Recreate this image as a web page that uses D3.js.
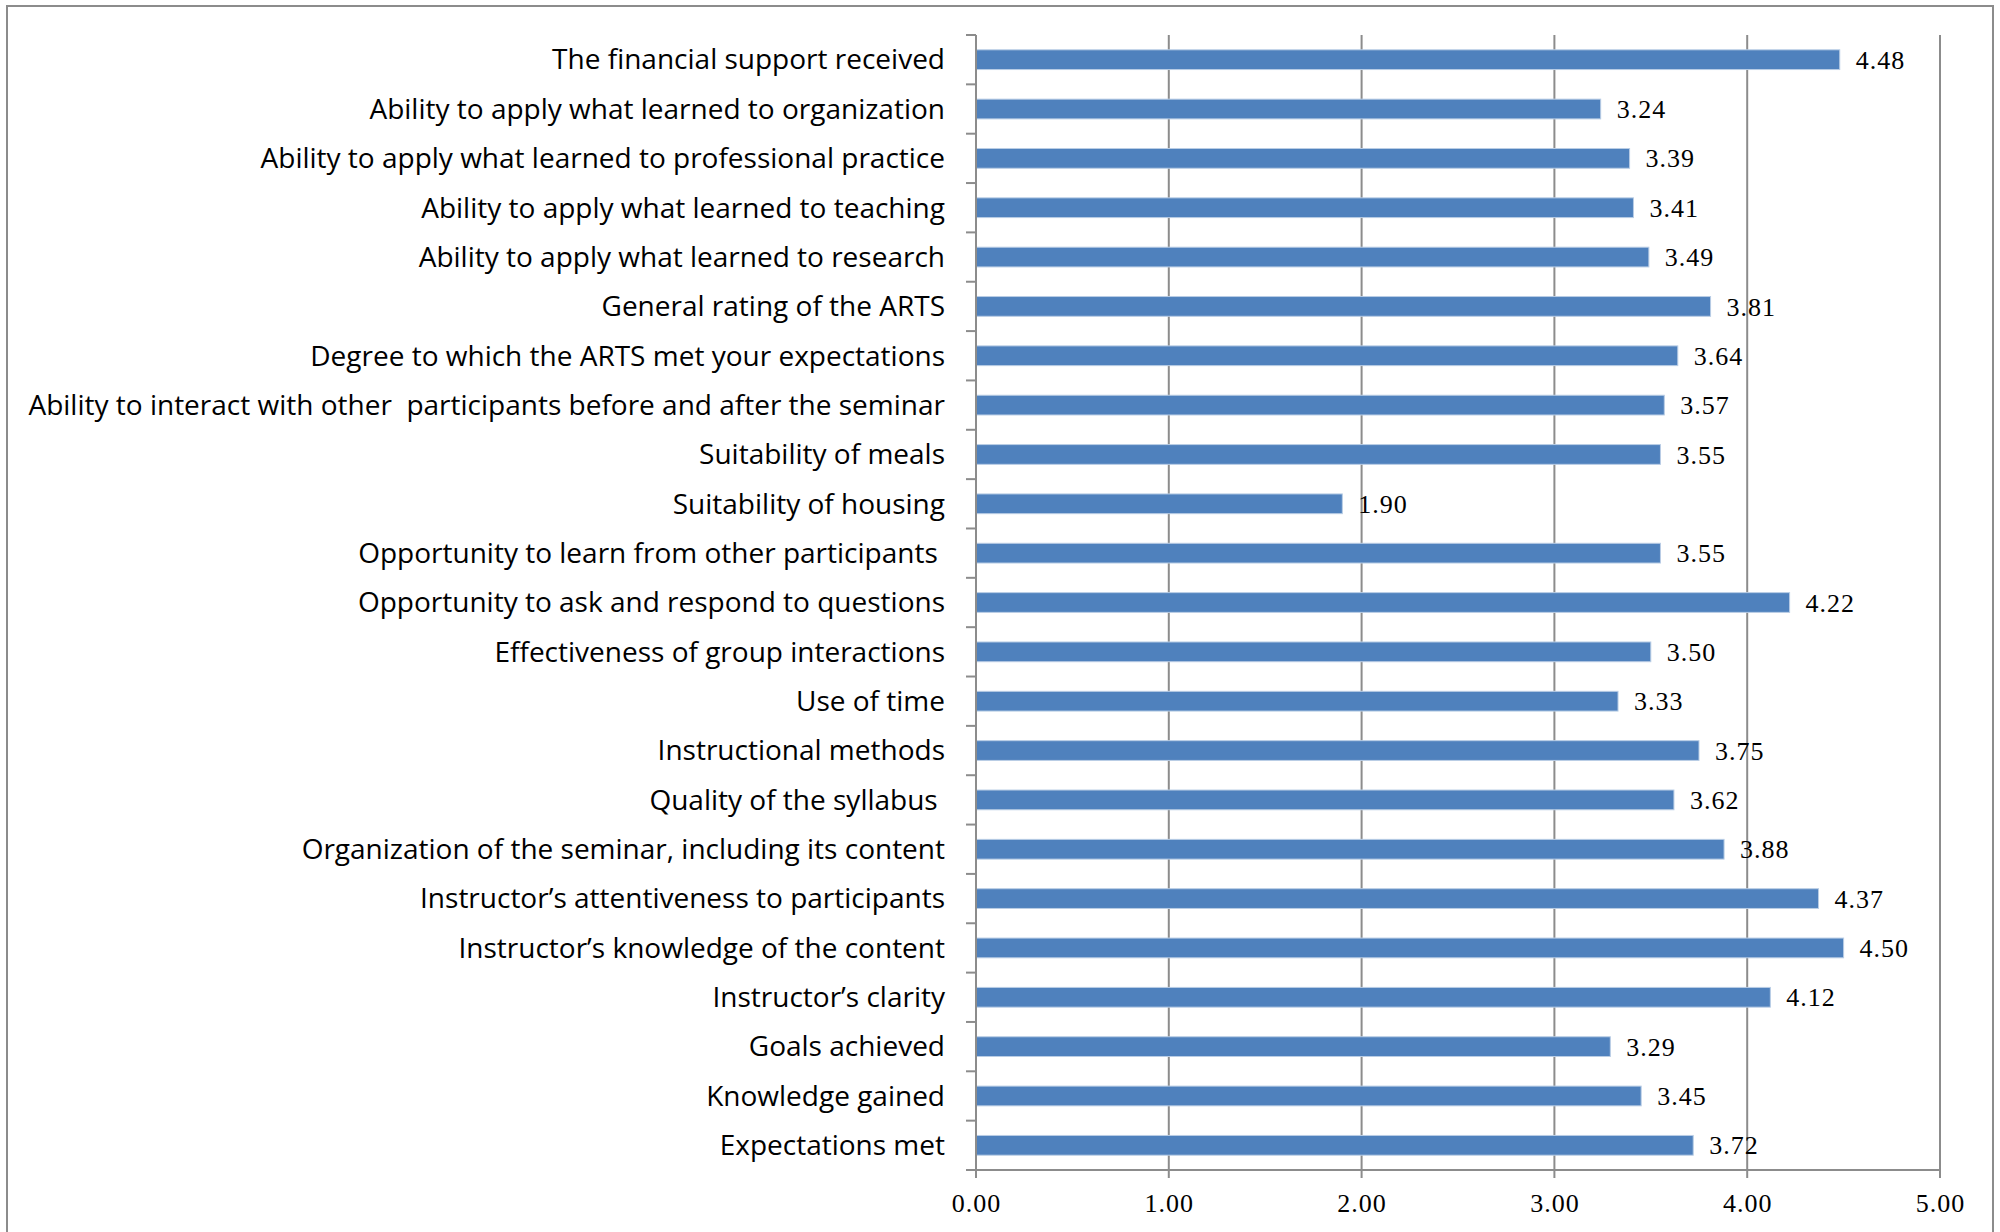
<!DOCTYPE html>
<html>
<head>
  <title>Seminar evaluation ratings</title>
  <style>
    body { margin: 0; background: #fff; }
    .cat text { font-family: "Open Sans", sans-serif; font-size: 28px; fill: #000; white-space: pre; }
    .xax text { font-family: "Liberation Serif", serif; font-size: 26px; letter-spacing: 1px; fill: #000; }
    .val { font-family: "Liberation Serif", serif; font-size: 26px; letter-spacing: 1px; fill: #000; }
    .grid line, .axisline { stroke: #8c8c8c; stroke-width: 2px; }
  </style>
</head>
<body>
  <svg id="chart"></svg>

  <script src="https://d3js.org/d3.v7.min.js"></script>
  <script>
    // categories, top to bottom as in the chart
    var categories = [
      "The financial support received",
      "Ability to apply what learned to organization",
      "Ability to apply what learned to professional practice",
      "Ability to apply what learned to teaching",
      "Ability to apply what learned to research",
      "General rating of the ARTS",
      "Degree to which the ARTS met your expectations",
      "Ability to interact with other  participants before and after the seminar",
      "Suitability of meals",
      "Suitability of housing",
      "Opportunity to learn from other participants ",
      "Opportunity to ask and respond to questions",
      "Effectiveness of group interactions",
      "Use of time",
      "Instructional methods",
      "Quality of the syllabus ",
      "Organization of the seminar, including its content",
      "Instructor\u2019s attentiveness to participants",
      "Instructor\u2019s knowledge of the content",
      "Instructor\u2019s clarity",
      "Goals achieved",
      "Knowledge gained",
      "Expectations met"
    ];
    var values = [4.48, 3.24, 3.39, 3.41, 3.49, 3.81, 3.64, 3.57, 3.55, 1.90, 3.55, 4.22,
                  3.50, 3.33, 3.75, 3.62, 3.88, 4.37, 4.50, 4.12, 3.29, 3.45, 3.72];
    var xTicks = [0, 1, 2, 3, 4, 5];

    var width = 2000, height = 1232;
    var plotLeft = 976, plotRight = 1940, plotTop = 35, plotBottom = 1170;

    var svg = d3.select("#chart").attr("width", width).attr("height", height);

    // outer chart border
    svg.append("rect")
      .attr("x", 7).attr("y", 6)
      .attr("width", 1986).attr("height", 1240)
      .attr("fill", "none").attr("stroke", "#8c8c8c").attr("stroke-width", 2);

    var x = d3.scaleLinear().domain([0, 5]).range([plotLeft, plotRight]);
    var y = d3.scaleBand().domain(categories).range([plotTop, plotBottom])
      .paddingInner(0.6).paddingOuter(0.3);

    // vertical gridlines (run a bit below the axis as tick marks)
    svg.append("g").attr("class", "grid")
      .selectAll("line").data(xTicks).enter().append("line")
      .attr("x1", d => x(d)).attr("x2", d => x(d))
      .attr("y1", plotTop).attr("y2", plotBottom + 8);

    // bars
    svg.append("g").selectAll("rect")
      .data(values).enter().append("rect")
      .attr("x", x(0))
      .attr("y", (d, i) => y(categories[i]))
      .attr("width", d => x(d) - x(0))
      .attr("height", y.bandwidth())
      .attr("fill", "#4f81bd")
      .attr("stroke", "#b9cde5").attr("stroke-width", 1);

    // x axis line
    svg.append("line").attr("class", "axisline")
      .attr("x1", plotLeft - 10).attr("x2", plotRight)
      .attr("y1", plotBottom).attr("y2", plotBottom);

    // y axis line with ticks at category boundaries
    svg.append("line").attr("class", "axisline")
      .attr("x1", plotLeft).attr("x2", plotLeft)
      .attr("y1", plotTop).attr("y2", plotBottom);
    var step = y.step();
    svg.append("g").attr("class", "grid")
      .selectAll("line").data(d3.range(categories.length + 1)).enter().append("line")
      .attr("x1", plotLeft - 10).attr("x2", plotLeft)
      .attr("y1", i => plotTop + i * step).attr("y2", i => plotTop + i * step);

    // category labels
    var yAxis = svg.append("g").attr("class", "cat")
      .attr("transform", "translate(" + plotLeft + ",0)")
      .call(d3.axisLeft(y).tickSize(0).tickPadding(31));
    yAxis.select(".domain").remove();
    yAxis.selectAll("text").attr("dy", "0.35em");

    // x tick labels
    var xAxis = svg.append("g").attr("class", "xax")
      .attr("transform", "translate(0," + plotBottom + ")")
      .call(d3.axisBottom(x).tickValues(xTicks).tickFormat(d3.format(".2f")).tickSize(0).tickPadding(24));
    xAxis.select(".domain").remove();

    // value labels
    svg.append("g").selectAll("text")
      .data(values).enter().append("text")
      .attr("class", "val")
      .attr("x", d => x(d) + 16)
      .attr("y", (d, i) => y(categories[i]) + y.bandwidth() / 2)
      .attr("dy", "0.35em")
      .text(d => d3.format(".2f")(d));
  </script>
</body>
</html>
